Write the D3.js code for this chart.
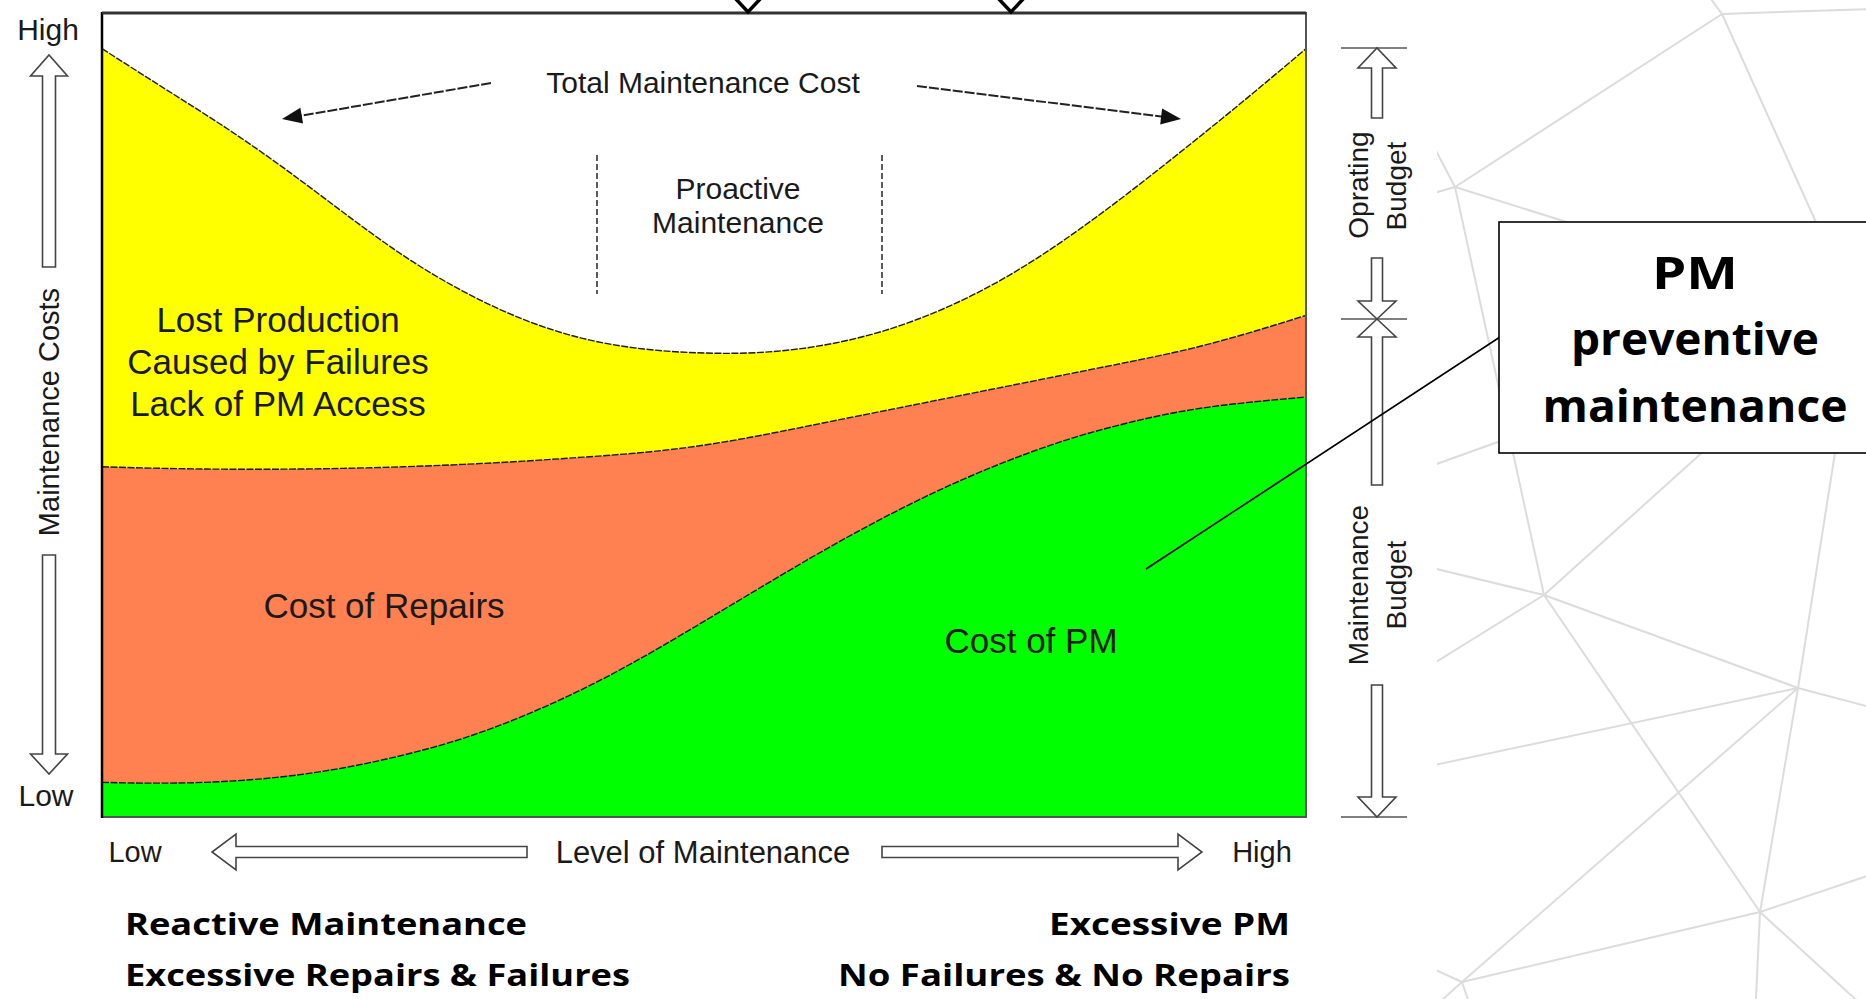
<!DOCTYPE html>
<html><head><meta charset="utf-8">
<script src="https://cdn.jsdelivr.net/npm/d3@7"></script>
<style>html,body{margin:0;padding:0;background:#fff;overflow:hidden}svg{display:block}</style>
</head><body>
<svg id="c" width="1866" height="999"></svg>
<script>
// ---- data ----
const levels = [0,5,10,15,20,25,30,35,40,45,50,55,60,65,70,75,80,85,90,95,100];
const costPM = [4.2,4.1,4.3,4.9,6.0,7.6,9.7,12.5,15.9,19.9,24.3,28.8,33.2,37.3,41.0,44.2,46.9,49.0,50.6,51.6,52.3];
const costRepairs = [39.4,39.3,39.0,38.4,37.4,36.0,34.2,31.8,28.9,25.5,22.0,18.8,15.9,13.3,11.1,9.4,8.2,7.6,7.6,8.6,10.2];
const lostProduction = [52.2,47.6,42.9,37.7,32.0,26.4,21.6,17.7,14.8,12.9,11.5,10.3,9.7,10.0,11.3,13.6,16.9,20.9,25.2,29.3,33.3];
const seriesKeys = ["pm","repairs","lost"];
const seriesColors = ["#00ff00","#ff8050","#ffff00"];
const yTickLabels = ["Low","High"];
const xTickLabels = ["Low","High"];

const svg = d3.select("#c");
const W = 1866, H = 999;
const ARIAL = "'Liberation Sans', Arial, sans-serif";
const BOLD = "'Open Sans', 'Lato', sans-serif";

// ---- background mesh (decoration) ----
const meshNodes = {A:[1722,14],B:[1455,187],C:[1857,313],D:[1544,595],E:[1798,688],F:[1760,912],G:[1462,982]};
const meshEdges = [
 ["A",[1697,-20]],["A",[1900,8]],["A","B"],["A","C"],["B",[1420,197]],["B",[1420,120]],["B","C"],["B","D"],
 ["C",[1420,470]],["C","D"],["C","E"],["C",[1900,290]],["D",[1420,565]],["D",[1420,672]],["D","E"],["D","F"],
 ["E",[1420,768]],["E","G"],["E","F"],["E",[1900,715]],["F","G"],["F",[1900,865]],["F",[1900,1040]],["F",[1755,1020]],
 ["G",[1420,963]],["G",[1420,1020]],["G",[1475,1020]]
];
const defs = svg.append("defs");
defs.append("clipPath").attr("id","meshClip").append("rect").attr("x",1437).attr("y",0).attr("width",W-1437).attr("height",H);
const mesh = svg.append("g").attr("clip-path","url(#meshClip)");
const pt = p => typeof p === "string" ? meshNodes[p] : p;
meshEdges.forEach(([a,b])=>{
  const p=pt(a), q=pt(b);
  mesh.append("line").attr("x1",p[0]).attr("y1",p[1]).attr("x2",q[0]).attr("y2",q[1])
    .attr("stroke","#dcdcdc").attr("stroke-width",2);
});

// ---- scales ----
const x = d3.scaleLinear().domain([0,100]).range([102,1306]);
const y = d3.scaleLinear().domain([0,100]).range([816,15]);

const rows = levels.map((l,i)=>({level:l, pm:costPM[i], repairs:costRepairs[i], lost:lostProduction[i]}));
const stacked = d3.stack().keys(seriesKeys)(rows);
const curve = d3.curveNatural;
const area = d3.area().x(d=>x(d.data.level)).y0(d=>y(d[0])).y1(d=>y(d[1])).curve(curve);
const line = d3.line().x(d=>x(d.data.level)).y(d=>y(d[1])).curve(curve);

const plot = svg.append("g");
plot.selectAll("path.area").data(stacked).join("path").attr("class","area")
  .attr("d",area).attr("fill",(d,i)=>seriesColors[i]).attr("stroke","none");
plot.selectAll("path.edge").data(stacked).join("path").attr("class","edge")
  .attr("d",line).attr("fill","none").attr("stroke","#1a1a1a").attr("stroke-width",1.4).attr("stroke-dasharray","7,1.5");

// frame
svg.append("rect").attr("x",x(0)).attr("y",13).attr("width",x(100)-x(0)).attr("height",817-13)
  .attr("fill","none").attr("stroke","#555").attr("stroke-width",2);
svg.append("line").attr("x1",x(0)).attr("x2",x(0)).attr("y1",12).attr("y2",818).attr("stroke","#000").attr("stroke-width",2.5);
svg.append("line").attr("x1",x(0)).attr("x2",x(100)).attr("y1",13).attr("y2",13).attr("stroke","#333").attr("stroke-width",3);

// top chevrons (cut-off arrows)
[748,1011].forEach(cx=>{
  svg.append("path").attr("d",`M${cx-14},-3 L${cx},12 L${cx+14},-3`).attr("fill","none")
    .attr("stroke","#000").attr("stroke-width",3.5);
});

// ---- helpers ----
function blockArrow(g,x1,y1,x2,y2,sw,hw,hl){
  const dx=x2-x1, dy=y2-y1, L=Math.hypot(dx,dy), ux=dx/L, uy=dy/L, nx=-uy, ny=ux;
  const kx=x2-ux*hl, ky=y2-uy*hl;
  const P=[[x1+nx*sw/2,y1+ny*sw/2],[kx+nx*sw/2,ky+ny*sw/2],[kx+nx*hw/2,ky+ny*hw/2],[x2,y2],
           [kx-nx*hw/2,ky-ny*hw/2],[kx-nx*sw/2,ky-ny*sw/2],[x1-nx*sw/2,y1-ny*sw/2]];
  g.append("path").attr("d","M"+P.map(p=>p.join(",")).join("L")+"Z")
   .attr("fill","#fff").attr("stroke","#444").attr("stroke-width",1.6).attr("stroke-linejoin","miter");
}
function txt(t,xx,yy,size,opts={}){
  const e = svg.append("text").attr("x",xx).attr("y",yy).text(t)
    .attr("font-family",opts.family||ARIAL).attr("font-size",size)
    .attr("font-weight",opts.weight||"normal").attr("fill",opts.fill||"#1a1a1a")
    .attr("text-anchor",opts.anchor||"middle").attr("dominant-baseline","central");
  if(opts.rotate) e.attr("transform",`rotate(-90,${xx},${yy})`);
  if(opts.len) e.attr("textLength",opts.len).attr("lengthAdjust","spacingAndGlyphs");
  return e;
}

// ---- left axis ----
txt(yTickLabels[1],48,29,30);
txt(yTickLabels[0],46,795,30);
blockArrow(svg,49,267,49,55,13,37,21);
blockArrow(svg,49,555,49,774,13,37,20);
txt("Maintenance Costs",49,412,29,{rotate:true});

// ---- bottom axis ----
txt(xTickLabels[0],135,852,29);
txt("Level of Maintenance",703,852,31);
txt(xTickLabels[1],1262,852,29);
blockArrow(svg,527,852,212,852,11,36,24);
blockArrow(svg,882,852,1202,852,11,36,24);

// ---- in-chart labels ----
txt("Total Maintenance Cost",703,82,30);
[[491,83,282,119],[917,86,1181,119]].forEach(([a,b,c,d])=>{
  const dx=c-a, dy=d-b, L=Math.hypot(dx,dy);
  svg.append("line").attr("x1",a).attr("y1",b).attr("x2",c-dx/L*16).attr("y2",d-dy/L*16)
    .attr("stroke","#222").attr("stroke-width",2).attr("stroke-dasharray","10,2");
  const ang=Math.atan2(dy,dx)*180/Math.PI;
  svg.append("path").attr("d","M0,0 L-20,-8 L-20,8 Z").attr("fill","#111")
    .attr("transform",`translate(${c},${d}) rotate(${ang})`);
});
[597,882].forEach(xx=>{
  svg.append("line").attr("x1",xx).attr("x2",xx).attr("y1",155).attr("y2",294)
    .attr("stroke","#333").attr("stroke-width",1.6).attr("stroke-dasharray","6,3");
});
txt("Proactive",738,188,30);
txt("Maintenance",738,222,30);
txt("Lost Production",278,319,35);
txt("Caused by Failures",278,361,35);
txt("Lack of PM Access",278,403,35);
txt("Cost of Repairs",384,605,35);
txt("Cost of PM",1031,640,35);

// ---- right budget bracket ----
[48,319,817].forEach(yy=>{
  svg.append("line").attr("x1",1341).attr("x2",1407).attr("y1",yy).attr("y2",yy).attr("stroke","#555").attr("stroke-width",1.6);
});
blockArrow(svg,1377,118,1377,48,11,38,20);
blockArrow(svg,1377,258,1377,319,11,38,18);
blockArrow(svg,1377,485,1377,319,11,38,18);
blockArrow(svg,1377,685,1377,817,11,38,20);
txt("Oprating",1358,185,28,{rotate:true});
txt("Budget",1396,186,28,{rotate:true});
txt("Maintenance",1358,585,28,{rotate:true});
txt("Budget",1396,585,28,{rotate:true});

// ---- callout box ----
svg.append("line").attr("x1",1500).attr("y1",337).attr("x2",1146).attr("y2",569).attr("stroke","#000").attr("stroke-width",1.6);
svg.append("rect").attr("x",1499).attr("y",222).attr("width",420).attr("height",231)
  .attr("fill","#fff").attr("stroke","#000").attr("stroke-width",1.6);
txt("PM",1695,272,44,{family:BOLD,weight:"bold",fill:"#000",len:86});
txt("preventive",1695,338,44,{family:BOLD,weight:"bold",fill:"#000",len:248});
txt("maintenance",1695,405,44,{family:BOLD,weight:"bold",fill:"#000",len:305});

// ---- bottom captions ----
txt("Reactive Maintenance",125,923,30,{family:BOLD,weight:"bold",fill:"#000",anchor:"start",len:402});
txt("Excessive Repairs & Failures",125,974,30,{family:BOLD,weight:"bold",fill:"#000",anchor:"start",len:505});
txt("Excessive PM",1290,923,30,{family:BOLD,weight:"bold",fill:"#000",anchor:"end",len:241});
txt("No Failures & No Repairs",1290,974,30,{family:BOLD,weight:"bold",fill:"#000",anchor:"end",len:452});
</script>
</body></html>
